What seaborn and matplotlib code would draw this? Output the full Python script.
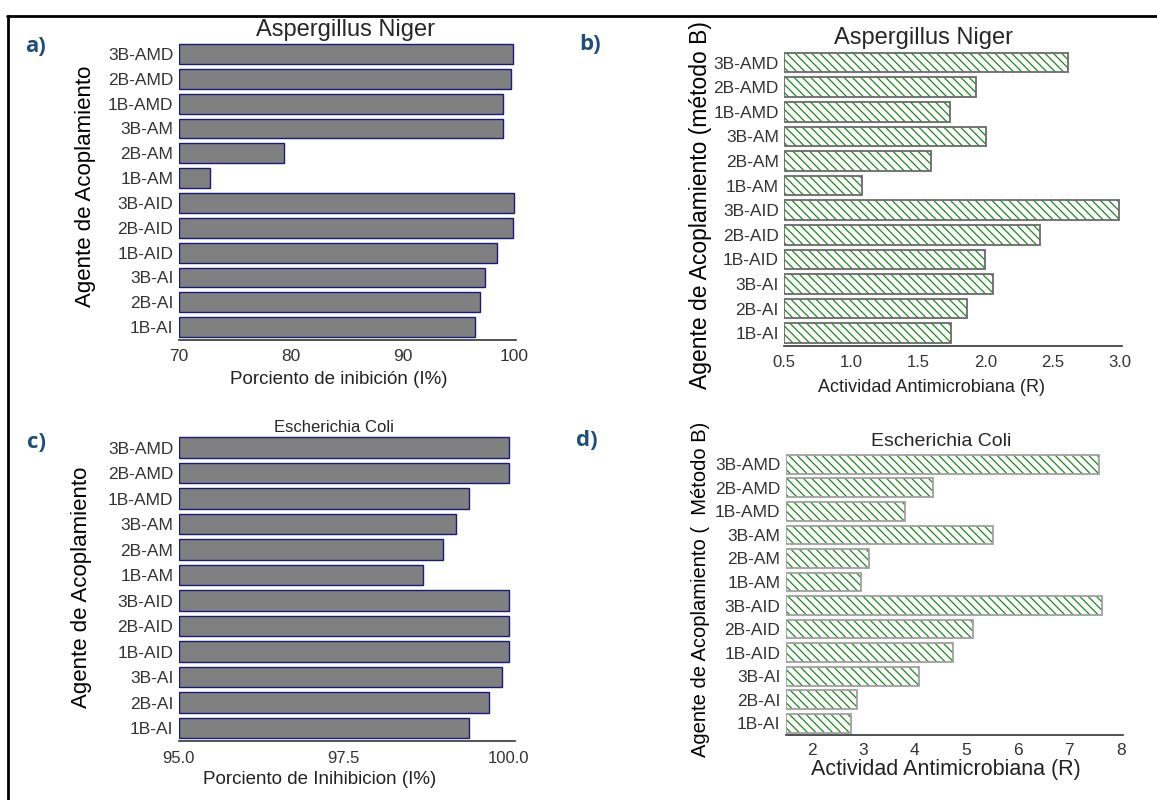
import matplotlib
matplotlib.use('Agg')
import matplotlib.pyplot as plt
from matplotlib.ticker import MultipleLocator, FormatStrFormatter
from matplotlib.lines import Line2D
import seaborn as sns

agentes = ['3B-AMD', '2B-AMD', '1B-AMD', '3B-AM', '2B-AM', '1B-AM',
           '3B-AID', '2B-AID', '1B-AID', '3B-AI', '2B-AI', '1B-AI']

# a) Aspergillus Niger - porciento de inhibicion
niger_inhib = [99.85, 99.75, 99.0, 98.95, 79.4, 72.8, 100.0, 99.85, 98.5, 97.4, 96.9, 96.5]
# b) Aspergillus Niger - actividad antimicrobiana
niger_r = [2.61, 1.93, 1.73, 2.00, 1.59, 1.08, 2.99, 2.40, 1.99, 2.05, 1.86, 1.74]
# c) Escherichia Coli - porciento de inhibicion
coli_inhib = [100.0, 100.0, 99.4, 99.2, 99.0, 98.7, 100.0, 100.0, 100.0, 99.9, 99.7, 99.4]
# d) Escherichia Coli - actividad antimicrobiana
coli_r = [7.58, 4.36, 3.82, 5.52, 3.11, 2.95, 7.63, 5.13, 4.75, 4.08, 2.88, 2.76]

sns.set_style('white')
FONT = ['Liberation Sans', 'DejaVu Sans']
plt.rcParams['font.family'] = FONT
plt.rcParams['hatch.linewidth'] = 0.9

W, H = 1157, 800
fig = plt.figure(figsize=(W / 100, H / 100), dpi=100)

ax_a = fig.add_axes([0.1546, 0.5756, 0.2918, 0.3725])
ax_b = fig.add_axes([0.6779, 0.5681, 0.2915, 0.369])
ax_c = fig.add_axes([0.1546, 0.0739, 0.2909, 0.3826])
ax_d = fig.add_axes([0.6793, 0.0813, 0.2915, 0.353])

gray_kw = dict(orient='h', color='#808080', edgecolor='#1a1a7a', linewidth=1,
               saturation=1, width=0.8)
sns.barplot(x=niger_inhib, y=agentes, ax=ax_a, **gray_kw)
sns.barplot(x=coli_inhib, y=agentes, ax=ax_c, **gray_kw)

green = '#1f861f'
for ax, vals, ec in [(ax_b, niger_r, '#6a6a6a'), (ax_d, coli_r, '#a0a0a0')]:
    sns.barplot(x=vals, y=agentes, ax=ax, orient='h', color='white', edgecolor=green,
                linewidth=0, hatch='\\\\\\\\', saturation=1, width=0.8)
    sns.barplot(x=vals, y=agentes, ax=ax, orient='h', color=ec, fill=False,
                linewidth=1.3, saturation=1, width=0.8)


def style(ax, xlim, major, minor, fmt, tsize, direction):
    ax.set_xlim(*xlim)
    # bars start at the left end of the axis so their left edge shows
    for p in ax.patches:
        end = p.get_x() + p.get_width()
        p.set_x(xlim[0])
        p.set_width(end - xlim[0])
    ax.xaxis.set_major_locator(MultipleLocator(major))
    ax.xaxis.set_minor_locator(MultipleLocator(minor))
    ax.xaxis.set_major_formatter(FormatStrFormatter(fmt))
    for s in ['top', 'right', 'left']:
        ax.spines[s].set_visible(False)
    ax.spines['bottom'].set_color('#333333')
    ax.spines['bottom'].set_linewidth(1.2)
    big = 7 if direction == 'inout' else 5
    ax.tick_params(axis='x', which='major', direction=direction, length=big, width=1,
                   color='#333333', labelsize=tsize, labelcolor='#333333', pad=2)
    ax.tick_params(axis='x', which='minor', direction=direction, length=big * 0.6,
                   width=0.8, color='#333333')
    ax.tick_params(axis='y', length=0, labelsize=12.5, labelcolor='#333333', pad=4)
    ax.set_ylabel('')


style(ax_a, (70, 100.2), 10, 2, '%d', 12.5, 'out')
style(ax_b, (0.5, 3.01), 0.5, 0.1, '%.1f', 12, 'out')
style(ax_c, (95, 100.1), 2.5, 0.5, '%.1f', 12, 'out')
style(ax_d, (1.5, 8.05), 1, 0.2, '%d', 12.5, 'inout')


def px(x, y):
    return x / W, 1 - y / H


# axis labels placed in figure pixels
labels = [
    (ax_a, 'Porciento de inibición (I%)', (339, 380), 13.5, 'Agente de Acoplamiento', (85, 186), 16),
    (ax_b, 'Actividad Antimicrobiana (R)', (931, 388), 13, 'Agente de Acoplamiento (método B)', (700, 205), 16.5),
    (ax_c, 'Porciento de Inihibicion (I%)', (320, 780), 13.5, 'Agente de Acoplamiento', (81, 587), 16),
    (ax_d, 'Actividad Antimicrobiana (R)', (946, 770), 15.5, 'Agente de Acoplamiento (  Método B)', (700, 589), 14.5),
]
for ax, xl, xpos, xs, yl, ypos, ys in labels:
    ax.set_xlabel(xl, fontsize=xs, color='#222222')
    ax.xaxis.set_label_coords(*px(*xpos), transform=fig.transFigure)
    ax.xaxis.label.set_va('center')
    ax.set_ylabel(yl, fontsize=ys, color='black')
    ax.yaxis.set_label_coords(*px(*ypos), transform=fig.transFigure)
    ax.yaxis.label.set_va('center')

# titles
fig.text(*px(345, 30), 'Aspergillus Niger', fontsize=17, ha='center', va='center')
fig.text(*px(924, 38), 'Aspergillus Niger', fontsize=17, ha='center', va='center')
fig.text(*px(334, 428), 'Escherichia Coli', fontsize=12, ha='center', va='center')
fig.text(*px(941, 442), 'Escherichia Coli', fontsize=14, ha='center', va='center')

# panel letters
for letter, pos in [('a)', (36, 47)), ('b)', (590, 45)), ('c)', (36, 443)), ('d)', (587, 440))]:
    fig.text(*px(*pos), letter, fontsize=16, fontweight='bold', color='#1f4e79',
             ha='center', va='center', family=['Open Sans', 'DejaVu Sans'])

# frame lines around the figure (top and left)
fig.add_artist(Line2D([7 / W, 1], [1 - 16 / H, 1 - 16 / H], color='black', lw=2,
                      transform=fig.transFigure))
fig.add_artist(Line2D([8 / W, 8 / W], [0, 1 - 16 / H], color='black', lw=2,
                      transform=fig.transFigure))

fig.savefig('out.png', dpi=100)
